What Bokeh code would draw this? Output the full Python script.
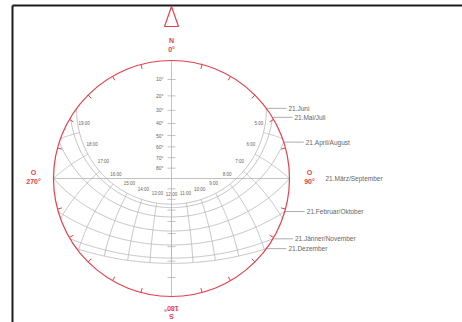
import numpy as np
from bokeh.plotting import figure
from bokeh.models import Range1d
from bokeh.embed import file_html
from bokeh.resources import INLINE
from bokeh.core.properties import value

# ---------------- data ----------------
latitude = 48.0
date_labels = ["21.Juni", "21.Mai/Juli", "21.April/August", "21.März/September",
               "21.Februar/Oktober", "21.Jänner/November", "21.Dezember"]
declinations = [23.44, 20.3, 11.9, 0.0, -10.8, -20.0, -23.44]
hours = [5, 6, 7, 8, 9, 10, 11, 12, 13, 14, 15, 16, 17, 18, 19]
hour_labels = ["5:00", "6:00", "7:00", "8:00", "9:00", "10:00", "11:00", "12:00",
               "13:00", "14:00", "15:00", "16:00", "17:00", "18:00", "19:00"]
altitudes = [10, 20, 30, 40, 50, 60, 70, 80]
altitude_labels = ["10°", "20°", "30°", "40°", "50°", "60°", "70°", "80°"]
azimuth_ticks = [15, 30, 45, 60, 75, 105, 120, 135, 150, 165,
                 195, 210, 225, 240, 255, 285, 300, 315, 330, 345]

# ---------------- layout / style ----------------
W, H = 462, 322
CX, CY, R = 171, 178, 118          # centre and horizon radius in pixels
def px(v):
    return v / R

RED = "#e6404c"
GRID = "#b4b4b4"
TXT = "#666666"
FONT = value("Liberation Sans")

p = figure(width=W, height=H, output_backend="svg", toolbar_location=None,
           x_range=Range1d(-CX / R, (W - CX) / R), y_range=Range1d(-(H - CY) / R, CY / R),
           x_axis_type=None, y_axis_type=None, min_border=0)
p.outline_line_color = None
p.grid.visible = False
p.background_fill_color = "white"

phi = np.radians(latitude)

def project(dec_deg, hour_angle_deg):
    d = np.radians(dec_deg)
    h = np.radians(hour_angle_deg)
    e = -np.cos(d) * np.sin(h)
    n = np.cos(phi) * np.sin(d) - np.sin(phi) * np.cos(d) * np.cos(h)
    u = np.clip(np.sin(phi) * np.sin(d) + np.cos(phi) * np.cos(d) * np.cos(h), 0, 1)
    return e / (1 + u), n / (1 + u)

# frame lines
x_left, x_right = px(12 - CX), px(W - CX)
y_top, y_bot = px(CY - 5), -px(H - CY)
p.segment(x0=[x_left, x_left], y0=[y_top, y_top], x1=[x_right, x_left], y1=[y_top, y_bot],
          line_color="#1c1c1c", line_width=2)

# N-S and E-W lines
p.segment(x0=[0, -1], y0=[1, 0], x1=[0, 1], y1=[-1, 0], line_color=GRID, line_width=0.8)

# altitude ticks on the N-S line
alt_r = np.tan(np.radians((90 - np.array(altitudes)) / 2))
p.segment(x0=np.full(len(alt_r) * 2, -px(4)), x1=np.full(len(alt_r) * 2, px(4)),
          y0=np.concatenate([alt_r, -alt_r]), y1=np.concatenate([alt_r, -alt_r]),
          line_color=GRID, line_width=0.8)
p.text(x=np.full(len(alt_r), -px(8)), y=alt_r, text=altitude_labels, text_font=FONT,
       text_font_size=value("5px"), text_color=TXT, text_align="right", text_baseline="middle")

# sun paths
dmin, dmax = min(declinations), max(declinations)
for dec in declinations:
    h0 = np.degrees(np.arccos(np.clip(-np.tan(phi) * np.tan(np.radians(dec)), -1, 1)))
    hs = np.linspace(-h0, h0, 241)
    xs, ys = project(dec, hs)
    p.line(xs, ys, line_color=GRID, line_width=0.8)

# hour lines
for hr in hours:
    ha = 15.0 * (hr - 12)
    dh = np.degrees(np.arctan(-np.cos(np.radians(ha)) / np.tan(phi)))
    lo = max(dh, dmin)
    if lo >= dmax:
        continue
    ds = np.linspace(lo, dmax, 80)
    xs, ys = project(ds, ha)
    p.line(xs, ys, line_color=GRID, line_width=0.8)

# hour labels just inside the June path
hx, hy = project(dmax, 15.0 * (np.array(hours) - 12))
p.text(x=hx * (1 - px(6)), y=hy + px(9.5), text=hour_labels, text_font=FONT,
       text_font_size=value("4.5px"), text_color=TXT, text_align="center", text_baseline="middle")

# date labels with leaders at sunrise points
lx, ly, tx = [], [], []
lead_x0, lead_x1, lead_y = [], [], []
for lab, dec in zip(date_labels, declinations):
    cos_az = np.sin(np.radians(dec)) / np.cos(phi)
    sx, sy = np.sqrt(1 - cos_az ** 2), cos_az
    if abs(dec) < 1e-9:
        lx.append(sx + px(36))
    else:
        lead_x0.append(sx)
        lead_x1.append(sx + px(20))
        lead_y.append(sy)
        lx.append(sx + px(22))
    ly.append(sy)
    tx.append(lab)
p.segment(x0=lead_x0, y0=lead_y, x1=lead_x1, y1=lead_y, line_color="#888888", line_width=0.7)
p.text(x=lx, y=ly, text=tx, text_font=FONT, text_font_size=value("6.5px"), text_color=TXT,
       text_align="left", text_baseline="middle")

# horizon circle with azimuth ticks
p.circle(x=[0], y=[0], radius=1, fill_color=None, line_color=RED, line_width=1.2)
az = np.radians(azimuth_ticks)
p.segment(x0=np.sin(az), y0=np.cos(az), x1=np.sin(az) * (1 - px(4.5)), y1=np.cos(az) * (1 - px(4.5)),
          line_color=RED, line_width=1.0)

# north arrow
p.patch(x=[0, -px(7), px(7)], y=[1 + px(54), 1 + px(34), 1 + px(34)],
        fill_color=None, line_color=RED, line_width=1.2)

# cardinal labels
bold = dict(text_font=FONT, text_font_size=value("7px"), text_color=RED, text_font_style="bold",
            text_align="center", text_baseline="middle")
p.text(x=[0, 0], y=[1 + px(20), 1 + px(11)], text=["N", "0°"], **bold)
p.text(x=[-1 - px(20), -1 - px(20)], y=[px(6), -px(3)], text=["O", "270°"], **bold)
p.text(x=[1 + px(20), 1 + px(20)], y=[px(6), -px(3)], text=["O", "90°"], **bold)
p.text(x=[0, 0], y=[-1 - px(12), -1 - px(20)], text=["180°", "S"], angle=np.pi, **bold)

open("out.html", "w").write(file_html(p, INLINE))
